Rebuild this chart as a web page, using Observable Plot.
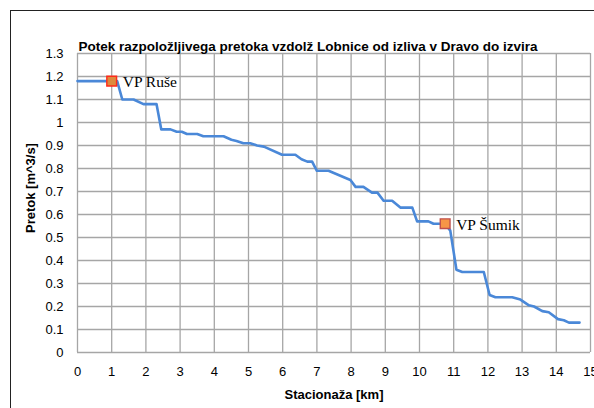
<!DOCTYPE html>
<html>
<head>
<meta charset="utf-8">
<script src="https://cdn.jsdelivr.net/npm/d3@7"></script>
<script src="https://cdn.jsdelivr.net/npm/@observablehq/plot@0.6"></script>
<style>
  html, body { margin: 0; padding: 0; background: #fff; }
  #wrap { position: relative; width: 594px; height: 408px; overflow: hidden; }
  #frame { position: absolute; left: 10px; top: 10px; width: 620px; height: 440px; border: 1.5px solid #222; box-sizing: border-box; pointer-events: none; }
  svg { display: block; }
</style>
</head>
<body>
<div id="wrap"><div id="frame"></div></div>
<script>
const title = "Potek razpoložljivega pretoka vzdolž Lobnice od izliva v Dravo do izvira";
const xLabel = "Stacionaža [km]";
const yLabel = "Pretok [m^3/s]";
const xTicks = d3.range(0, 16, 1);
const yTicks = [0, 0.1, 0.2, 0.3, 0.4, 0.5, 0.6, 0.7, 0.8, 0.9, 1, 1.1, 1.2, 1.3];
const yTickLabels = ["0", "0.1", "0.2", "0.3", "0.4", "0.5", "0.6", "0.7", "0.8", "0.9", "1", "1.1", "1.2", "1.3"];

const km = [0, 1.0, 1.16, 1.31, 1.64, 1.93, 2.31, 2.45, 2.72, 2.9, 3.05, 3.2, 3.5, 3.68, 4.27, 4.5, 4.65, 4.85, 5.05, 5.25, 5.45, 5.98, 6.37, 6.55, 6.72, 6.86, 7.0, 7.34, 7.98, 8.13, 8.36, 8.61, 8.77, 8.95, 9.2, 9.44, 9.79, 9.93, 10.26, 10.41, 10.75, 10.9, 11.08, 11.25, 11.88, 12.05, 12.22, 12.71, 12.95, 13.2, 13.35, 13.59, 13.78, 14.05, 14.22, 14.37, 14.68];
const flow = [1.18, 1.18, 1.18, 1.10, 1.10, 1.08, 1.08, 0.97, 0.97, 0.96, 0.96, 0.95, 0.95, 0.94, 0.94, 0.925, 0.92, 0.91, 0.91, 0.90, 0.895, 0.86, 0.86, 0.84, 0.83, 0.83, 0.79, 0.79, 0.75, 0.72, 0.72, 0.695, 0.695, 0.66, 0.66, 0.63, 0.63, 0.57, 0.57, 0.56, 0.56, 0.53, 0.36, 0.35, 0.35, 0.25, 0.24, 0.24, 0.23, 0.205, 0.20, 0.18, 0.175, 0.145, 0.14, 0.13, 0.13];

const stations = ["VP Ruše", "VP Šumik"];
const stationKm = [1.0, 10.75];
const stationQ = [1.18, 0.56];
const stationFill = ["#dd8a3e", "#f79646"];
const stationStroke = ["#ff2a1a", "#c0504d"];

const line = km.map((k, i) => ({km: k, q: flow[i]}));
const st = stations.map((s, i) => ({name: s, km: stationKm[i], q: stationQ[i], fill: stationFill[i], stroke: stationStroke[i]}));

const sans = "'Liberation Sans Narrow', 'Liberation Sans', sans-serif";
const serif = "'Liberation Serif', 'DejaVu Serif', serif";

const chart = Plot.plot({
  width: 594,
  height: 408,
  marginLeft: 77,
  marginRight: 4,
  marginTop: 53,
  marginBottom: 56,
  style: {fontFamily: sans, fontSize: "13px", color: "#000", overflow: "visible"},
  x: {domain: [0, 15], ticks: xTicks},
  y: {domain: [0, 1.3], ticks: yTicks},
  marks: [
    Plot.gridX(xTicks, {stroke: "#a6a6a6", strokeOpacity: 1, strokeWidth: 1.3}),
    Plot.gridY(yTicks, {stroke: "#a6a6a6", strokeOpacity: 1, strokeWidth: 1.3}),
    Plot.axisX(xTicks, {tickSize: 0, tickPadding: 14, label: null, fontSize: 13}),
    Plot.axisY(yTicks, {tickSize: 0, tickPadding: 14, label: null, fontSize: 13, tickFormat: (d, i) => yTickLabels[i]}),
    Plot.line(line, {x: "km", y: "q", stroke: "#4a88d8", strokeWidth: 2.6}),
    Plot.dot(st, {x: "km", y: "q", symbol: "square", r: 5.5, fill: "fill", stroke: "stroke", strokeWidth: 1.4}),
    Plot.text(st, {x: "km", y: "q", text: "name", textAnchor: "start", dx: 11, dy: 1, fontFamily: serif, fontSize: 15.5, fill: "#000"}),
    Plot.text([title], {frameAnchor: "top", dx: -26, dy: -12, fontWeight: "bold", fontSize: 13.5, fill: "#000"}),
    Plot.text([xLabel], {frameAnchor: "bottom", dy: 46, fontWeight: "bold", fontSize: 13, fill: "#000"}),
    Plot.text([yLabel], {frameAnchor: "left", dx: -47, dy: 30, rotate: -90, fontWeight: "bold", fontSize: 13, fill: "#000"})
  ]
});
document.getElementById("wrap").prepend(chart);
</script>
</body>
</html>
